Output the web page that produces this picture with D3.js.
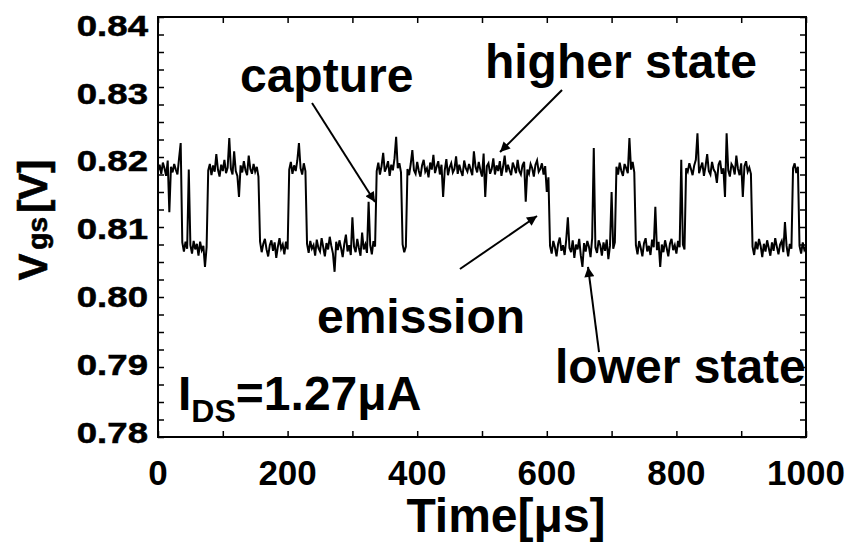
<!DOCTYPE html>
<html><head><meta charset="utf-8">
<script src="https://cdn.jsdelivr.net/npm/d3@7"></script>
<style>
html,body{margin:0;padding:0;background:#fff;}
svg{display:block;font-family:"Liberation Sans",Arial,sans-serif;font-weight:bold;}
</style></head><body>
<svg id="chart" width="854" height="545"></svg>
<script>
// ---- data ----
const timeStepUs = 2.5;               // sampling interval of the trace, in microseconds
// V_gs samples in millivolts, one every 2.5 us from 0 to 1000 us
const vgsMilliVolts = [
  818.0,818.9,817.6,819.2,818.4,817.3,819.5,812.1,818.6,817.8,819.0,818.2,817.5,819.8,822.0,
  807.8,806.5,807.9,806.9,818.2,807.4,806.2,808.0,806.8,807.6,805.9,807.9,806.7,807.3,804.3,807.1,
  818.1,819.0,817.4,818.8,817.9,820.4,818.2,817.2,818.9,818.0,819.6,817.7,818.5,822.7,818.3,817.5,
  820.8,818.0,817.3,814.3,818.8,817.8,819.4,818.1,817.4,820.2,818.3,817.6,819.0,817.9,818.6,817.2,
  807.9,806.4,807.6,808.3,806.8,805.8,807.4,808.1,806.6,807.8,805.6,807.2,808.4,806.9,807.5,806.1,807.9,806.8,
  818.2,819.3,817.6,818.8,818.0,819.5,822.0,818.4,817.5,819.1,818.0,
  807.6,806.3,808.0,806.9,807.4,805.9,808.2,807.0,806.5,808.4,807.1,805.8,807.7,806.8,808.6,807.3,806.2,803.6,
  807.9,806.7,808.1,807.0,805.7,807.6,808.9,806.5,807.4,806.0,811.4,807.2,806.4,808.3,807.0,805.9,809.2,806.8,
  807.5,806.3,813.6,807.4,806.1,808.0,807.2,
  818.0,819.2,817.5,818.7,820.6,817.9,818.5,819.4,817.3,818.9,818.1,819.8,822.9,818.4,819.1,817.8,
  807.5,806.4,807.2,
  818.3,817.4,819.0,821.0,818.1,817.6,819.3,818.0,817.2,818.8,
  819.6,817.9,818.4,817.1,819.2,818.2,820.3,817.7,818.6,819.4,
  817.5,818.9,814.3,818.1,819.7,817.4,818.5,819.1,817.8,818.3,
  820.1,817.6,818.9,818.0,817.3,819.5,818.4,817.9,819.0,818.2,
  817.4,820.8,818.6,817.8,819.3,818.1,817.2,820.5,814.3,818.7,
  819.1,817.6,818.3,819.8,817.5,818.8,818.0,819.4,817.3,818.6,
  820.2,817.8,818.9,818.1,817.4,819.2,818.5,817.7,819.6,818.0,
  817.5,818.8,819.3,813.6,818.2,817.6,819.0,818.4,817.2,818.9,
  819.5,817.9,818.3,819.1,817.5,818.7,815.0,817.1,
  807.3,806.2,808.0,807.1,805.8,807.6,808.5,806.6,807.4,806.0,
  808.2,811.4,807.0,806.4,808.1,805.6,807.5,806.8,808.3,805.9,
  804.3,807.7,806.5,808.0,807.2,805.7,808.4,821.3,807.1,806.3,
  808.1,807.4,805.9,807.8,806.6,808.2,805.4,807.3,815.0,806.9,
  807.8,
  818.6,817.5,819.2,818.0,817.3,819.0,818.4,817.7,822.7,818.2,819.3,817.8,
  807.4,806.1,808.0,807.0,805.8,807.7,808.4,806.5,807.3,806.0,
  808.2,807.1,812.9,806.7,807.9,804.3,807.5,806.4,808.1,807.0,
  805.8,807.6,808.3,806.7,807.4,806.2,808.0,807.1,
  819.6,807.5,806.8,818.4,
  817.9,819.1,818.3,817.4,818.8,819.6,823.4,817.7,818.5,819.2,
  817.3,818.7,820.4,818.0,817.5,819.3,818.2,817.8,816.3,818.9,
  819.5,817.6,818.4,814.3,823.4,818.1,817.2,819.0,818.6,817.5,
  820.2,818.3,817.4,819.1,814.3,818.7,819.4,817.9,818.5,817.6,
  807.2,806.0,807.9,806.8,808.3,807.3,805.7,807.6,806.5,808.1,
  807.0,805.9,807.8,806.6,808.4,807.2,806.1,807.5,808.0,806.4,
  810.7,807.3,805.8,807.6,806.9,
  818.4,819.1,817.7,818.6,
  807.3,806.2,807.8,806.7,807.1
];
const xTickLabels = [0, 200, 400, 600, 800, 1000];
const xMinorTicks = [0,100,200,300,400,500,600,700,800,900,1000];
const yTickLabels = [0.78, 0.79, 0.80, 0.81, 0.82, 0.83, 0.84];
const yMinorTicks = [0.78,0.7825,0.785,0.7875,0.79,0.7925,0.795,0.7975,0.80,0.8025,0.805,0.8075,
                     0.81,0.8125,0.815,0.8175,0.82,0.8225,0.825,0.8275,0.83,0.8325,0.835,0.8375,0.84];
// annotation texts and arrows, in data units (time us, volts)
const annotationTexts = [
  {text: "capture",      t: 126.5, v: 0.82929, anchor: "start"},
  {text: "higher state", t: 924.4, v: 0.83129, anchor: "end"},
  {text: "emission",     t: 405.9, v: 0.79486, anchor: "middle"},
  {text: "lower state",  t: 612.7, v: 0.78771, anchor: "start"}
];
const annotationArrows = [
  {t0: 237.7, v0: 0.82771, t1: 334.9, v1: 0.81357},
  {t0: 623.5, v0: 0.82957, t1: 527.8, v1: 0.82071},
  {t0: 466.0, v0: 0.80400, t1: 584.9, v1: 0.81157},
  {t0: 680.6, v0: 0.79214, t1: 663.6, v1: 0.80429}
];
const currentLabel = {main: "I", sub: "DS", rest: "=1.27\u03BCA", t: 30.9, v: 0.78386};

// ---- layout ----
const svg = d3.select("#chart");
const plotL = 158, plotR = 806, plotT = 17, plotB = 437;
const x = d3.scaleLinear().domain([0, 1000]).range([plotL, plotR]);
const y = d3.scaleLinear().domain([0.78, 0.84]).range([plotB, plotT]);
const yLabelPos = d3.scaleLinear().domain([0.78, 0.84]).range([432, 25]);

// defs
const defs = svg.append("defs");
defs.append("clipPath").attr("id", "clip").append("rect")
  .attr("x", plotL).attr("y", plotT).attr("width", plotR - plotL).attr("height", plotB - plotT);
defs.append("marker").attr("id", "ah").attr("viewBox", "0 0 10 10")
  .attr("refX", 10).attr("refY", 5).attr("markerWidth", 14).attr("markerHeight", 10)
  .attr("markerUnits", "userSpaceOnUse").attr("orient", "auto")
  .append("path").attr("d", "M0,0 L10,5 L0,10 z").attr("fill", "#000");

// trace
const line = d3.line()
  .x((d, i) => x(i * timeStepUs))
  .y(d => y(d / 1000));
svg.append("path").datum(vgsMilliVolts)
  .attr("clip-path", "url(#clip)")
  .attr("d", line).attr("fill", "none").attr("stroke", "#000")
  .attr("stroke-width", 2).attr("stroke-linejoin", "miter");

// axes (ticks inward on all four sides)
function styleAxis(g) {
  g.select(".domain").remove();
  g.selectAll(".tick line").attr("stroke", "#000").attr("stroke-width", 1.5);
  g.selectAll(".tick text").remove();
}
svg.append("g").attr("transform", `translate(0,${plotB})`)
  .call(d3.axisBottom(x).tickValues(xMinorTicks).tickSize(-6)).call(styleAxis);
svg.append("g").attr("transform", `translate(0,${plotT})`)
  .call(d3.axisTop(x).tickValues(xMinorTicks).tickSize(-6)).call(styleAxis);
svg.append("g").attr("transform", `translate(${plotL},0)`)
  .call(d3.axisLeft(y).tickValues(yMinorTicks).tickSize(-6)).call(styleAxis);
svg.append("g").attr("transform", `translate(${plotR},0)`)
  .call(d3.axisRight(y).tickValues(yMinorTicks).tickSize(-6)).call(styleAxis);

// frame
svg.append("rect").attr("x", plotL).attr("y", plotT)
  .attr("width", plotR - plotL).attr("height", plotB - plotT)
  .attr("fill", "none").attr("stroke", "#000").attr("stroke-width", 2);

// x tick labels
svg.append("g").selectAll("text").data(xTickLabels).join("text")
  .attr("x", d => x(d)).attr("y", 485)
  .attr("text-anchor", "middle").attr("font-size", 35)
  .text(d => d3.format("d")(d));

// y tick labels
svg.append("g").selectAll("text").data(yTickLabels).join("text")
  .attr("transform", d => `translate(148,${yLabelPos(d)}) scale(1.22,1)`)
  .attr("dy", "0.36em")
  .attr("text-anchor", "end").attr("font-size", 30)
  .attr("stroke", "#000").attr("stroke-width", 0.5)
  .text(d => d3.format(".2f")(d));

// axis titles
svg.append("text").attr("x", 506).attr("y", 532)
  .attr("text-anchor", "middle").attr("font-size", 48)
  .text("Time[\u03BCs]");
const yt = svg.append("text").attr("transform", "translate(47,220) rotate(-90)")
  .attr("text-anchor", "middle").attr("font-size", 40)
  .attr("stroke", "#000").attr("stroke-width", 0.6);
yt.append("tspan").text("V");
yt.append("tspan").attr("font-size", 28).attr("dx", 4).text("gs");
yt.append("tspan").attr("dx", 4).text("[V]");

// annotations
svg.append("g").selectAll("text").data(annotationTexts).join("text")
  .attr("x", d => x(d.t)).attr("y", d => y(d.v))
  .attr("text-anchor", d => d.anchor).attr("font-size", 48)
  .text(d => d.text);
svg.append("g").selectAll("line").data(annotationArrows).join("line")
  .attr("x1", d => x(d.t0)).attr("y1", d => y(d.v0))
  .attr("x2", d => x(d.t1)).attr("y2", d => y(d.v1))
  .attr("stroke", "#000").attr("stroke-width", 2)
  .attr("marker-end", "url(#ah)");

const cl = svg.append("text").attr("x", x(currentLabel.t)).attr("y", y(currentLabel.v))
  .attr("font-size", 48);
cl.append("tspan").text(currentLabel.main);
cl.append("tspan").attr("font-size", 32).attr("dy", 12).text(currentLabel.sub);
cl.append("tspan").attr("dy", -12).text(currentLabel.rest);
</script>
</body></html>
